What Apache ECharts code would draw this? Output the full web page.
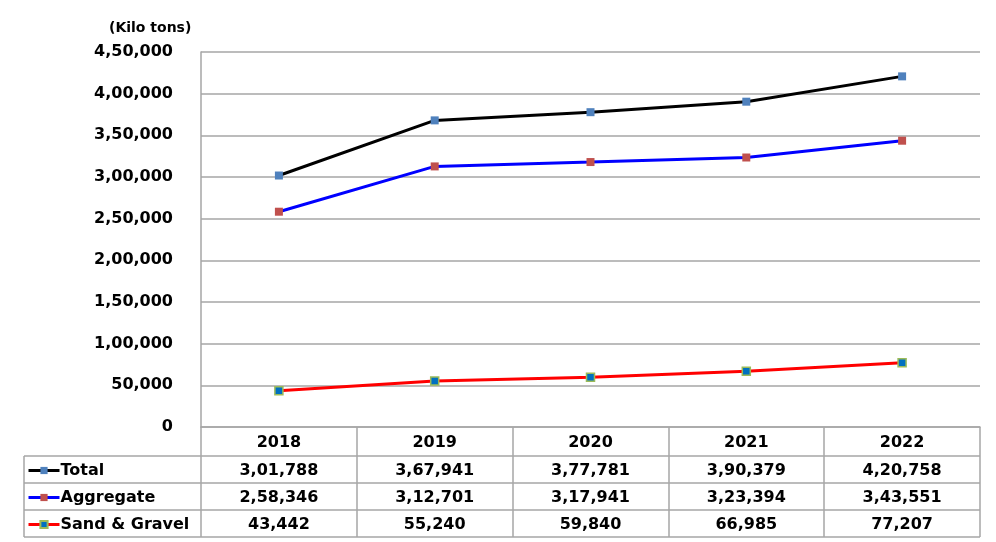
<!DOCTYPE html>
<html><head><meta charset="utf-8">
<script src="https://cdn.jsdelivr.net/npm/echarts@6/dist/echarts.min.js"></script>
<style>html,body{margin:0;padding:0;background:#fff}#c{width:996px;height:542px}</style>
</head><body><div id="c"></div>
<script>
const years = ['2018','2019','2020','2021','2022'];
const seriesNames = ['Total','Aggregate','Sand & Gravel'];
const totalVals = [301788, 367941, 377781, 390379, 420758];
const aggregateVals = [258346, 312701, 317941, 323394, 343551];
const sandVals = [43442, 55240, 59840, 66985, 77207];
const unitLabel = '(Kilo tons)';

function indian(n){
  const s = String(Math.round(n));
  if (s.length <= 3) return s;
  const last3 = s.slice(-3);
  let rest = s.slice(0, -3);
  const parts = [];
  while (rest.length > 2){ parts.unshift(rest.slice(-2)); rest = rest.slice(0,-2); }
  if (rest.length) parts.unshift(rest);
  return parts.join(',') + ',' + last3;
}

const FONT = 'DejaVu Sans';
const W = 996, H = 542;
const gl = 201, gr = 16, gt = 52, gb = 115;
const plotBottom = H - gb;
const rowH = 27;
const headerH = 29;
const tableLeft = 24;
const gridColor = '#a6a6a6';

const txt = {fontFamily: FONT, fontWeight: 'bold', fontSize: 16, color: '#000'};

const rowsData = [totalVals, aggregateVals, sandVals];
const extraAxes = rowsData.map((vals, i) => ({
  type: 'category', data: years, position: 'bottom', offset: headerH + rowH * i,
  axisLine: {show: false}, axisTick: {show: false}, splitLine: {show: false},
  axisLabel: Object.assign({margin: 7, formatter: (v, idx) => indian(vals[idx])}, txt)
}));

const lines = [];
const ys = [plotBottom + headerH, plotBottom + headerH + rowH, plotBottom + headerH + 2*rowH, plotBottom + headerH + 3*rowH];
ys.forEach(y => lines.push({type:'line', shape:{x1: tableLeft, y1: y, x2: W - gr, y2: y}, style:{stroke: gridColor, lineWidth: 1.5}}));
lines.push({type:'line', shape:{x1: tableLeft, y1: ys[0], x2: tableLeft, y2: ys[3]}, style:{stroke: gridColor, lineWidth: 1.5}});

const chart = echarts.init(document.getElementById('c'), null, {renderer: 'canvas'});
chart.setOption({
  animation: false,
  backgroundColor: '#fff',
  title: {text: unitLabel, left: 104, top: 16, textStyle: {fontFamily: FONT, fontWeight: 'bold', fontSize: 14, color: '#000'}},
  grid: {left: gl, right: gr, top: gt, bottom: gb, containLabel: false},
  legend: {
    orient: 'vertical', left: tableLeft + 3, top: plotBottom + headerH + 1, padding: 0, itemGap: 0,
    itemWidth: 31, itemHeight: 9,
    data: seriesNames,
    lineStyle: {width: 3},
    textStyle: Object.assign({padding: [0,0,0,-4], lineHeight: 27}, txt)
  },
  xAxis: [{
    type: 'category', data: years, position: 'bottom',
    axisLine: {show: true, lineStyle: {color: gridColor, width: 1.5}},
    axisTick: {show: true, length: headerH + 3*rowH, lineStyle: {color: gridColor, width: 1.5}},
    axisLabel: Object.assign({margin: 8}, txt)
  }].concat(extraAxes),
  yAxis: {
    type: 'value', min: 0, max: 450000, interval: 50000,
    axisLine: {show: true, lineStyle: {color: gridColor, width: 1.5}},
    axisTick: {show: false},
    splitLine: {lineStyle: {color: gridColor, width: 1.5}},
    axisLabel: Object.assign({margin: 28, formatter: v => indian(v)}, txt)
  },
  graphic: lines,
  series: [
    {name: 'Total', type: 'line', data: totalVals, color: '#000000', symbol: 'rect', symbolSize: 8,
     lineStyle: {color: '#000', width: 3}, itemStyle: {color: '#4f81bd'}},
    {name: 'Aggregate', type: 'line', data: aggregateVals, symbol: 'rect', symbolSize: 8,
     lineStyle: {color: '#0000ff', width: 3}, itemStyle: {color: '#c0504d'}},
    {name: 'Sand & Gravel', type: 'line', data: sandVals, symbol: 'rect', symbolSize: 8,
     lineStyle: {color: '#ff0000', width: 3}, itemStyle: {color: '#0070c0', borderColor: '#9bbb59', borderWidth: 1.5}}
  ]
});
</script></body></html>
